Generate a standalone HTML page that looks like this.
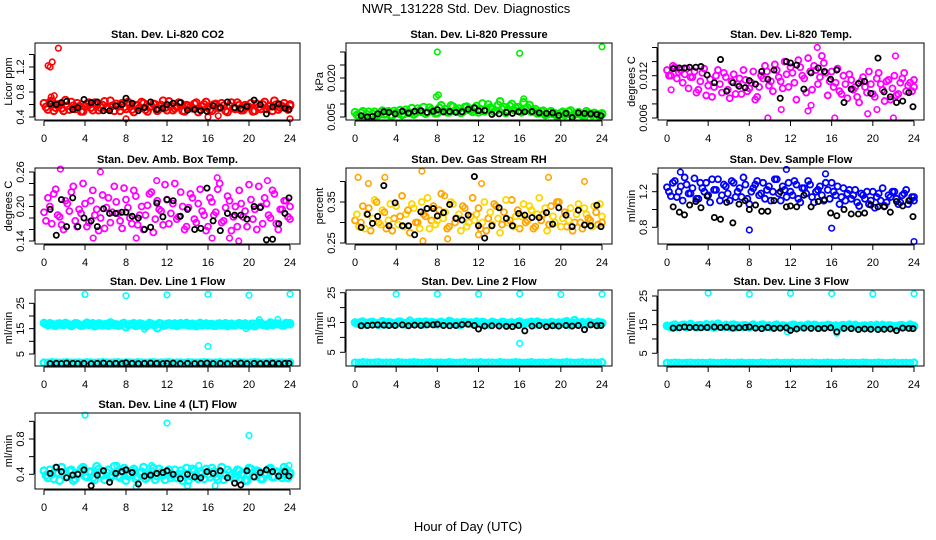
<!DOCTYPE html>
<html><head><meta charset="utf-8">
<style>
html,body{margin:0;padding:0;background:#fff;}
svg{display:block;font-family:"Liberation Sans",Arial,sans-serif;}
</style></head>
<body>
<svg id="chart" width="936" height="540" viewBox="0 0 936 540" xmlns="http://www.w3.org/2000/svg">
<text x="466" y="13" font-size="13" text-anchor="middle">NWR_131228  Std. Dev. Diagnostics</text>
<text x="468" y="531" font-size="13" text-anchor="middle">Hour of Day (UTC)</text>
</svg>
<script>
// ---- shared black (reference) sample hours ----
const blkX = [0.6,1.2,1.7,2.2,2.8,3.3,3.9,4.6,5.2,5.8,6.4,7.0,7.6,8.0,8.6,9.2,9.8,10.4,11.0,11.6,12.0,12.6,13.3,14.0,14.7,15.3,15.9,16.5,17.2,17.9,18.6,19.2,19.8,20.5,21.1,21.7,22.3,22.9,23.5,23.9];
const xTicks = [0,4,8,12,16,20,24];

// ---- panel 1: CO2 ----
const co2Vals = [0.62,0.52,0.66,0.55,0.60,0.50,0.58,0.64,0.53,0.57,0.49,0.61,0.55,0.63,0.51,0.59,0.54,0.66,0.50,0.57,0.62,0.53,0.60,0.48,0.58,0.64,0.52,0.56,0.61,0.50,0.59,0.55,0.65,0.51,0.57,0.62,0.49,0.58,0.54,0.63,0.52,0.60,0.56,0.50,0.61,0.55,0.58,0.48,0.63,0.53,0.59,0.51,0.57,0.62,0.50,0.56,0.60,0.53,0.58,0.66,0.52,0.57,0.55,0.60];
const co2Vals2 = [0.56,0.64,0.50,0.60,0.54,0.67,0.52,0.58,0.62,0.49,0.57,0.63,0.51,0.59,0.55,0.65,0.53,0.58,0.61,0.50,0.56,0.64,0.52,0.59,0.55,0.62,0.49,0.57,0.60,0.53,0.66,0.51,0.58,0.54,0.63,0.50,0.59,0.56,0.61,0.48,0.57,0.64,0.52,0.60,0.55,0.62,0.50,0.58,0.54,0.63,0.51,0.59,0.56,0.49,0.61,0.53,0.64,0.57,0.50,0.60,0.55,0.62,0.52,0.58];
const co2OutX = [0.4,0.6,0.8,1.4,8,16,24,17,0.7,1.0];
const co2OutY = [1.22,1.20,1.28,1.50,0.37,0.40,0.37,0.42,0.72,0.74];
const co2Blk = [0.61,0.60,0.63,0.65,0.52,0.55,0.68,0.63,0.64,0.50,0.50,0.58,0.60,0.70,0.62,0.50,0.55,0.64,0.52,0.54,0.60,0.62,0.63,0.51,0.52,0.50,0.49,0.58,0.55,0.64,0.55,0.53,0.57,0.67,0.60,0.45,0.56,0.61,0.54,0.52];

// ---- panel 2: Pressure ----
const presVals = [0.0068,0.0055,0.0072,0.0060,0.0050,0.0070,0.0058,0.0074,0.0062,0.0056,0.0073,0.0064,0.0058,0.0078,0.0066,0.0060,0.0082,0.0070,0.0063,0.0086,0.0072,0.0065,0.0095,0.0080,0.0068,0.0090,0.0075,0.0066,0.0088,0.0078,0.0070,0.0092,0.0080,0.0072,0.0098,0.0082,0.0074,0.0110,0.0088,0.0076,0.0100,0.0084,0.0072,0.0106,0.0086,0.0070,0.0080,0.0066,0.0074,0.0060,0.0072,0.0064,0.0058,0.0070,0.0062,0.0075,0.0060,0.0068,0.0056,0.0072,0.0062,0.0066,0.0058,0.0064];
const presVals2 = [0.0058,0.0066,0.0052,0.0070,0.0062,0.0054,0.0068,0.0060,0.0072,0.0056,0.0066,0.0076,0.0062,0.0070,0.0084,0.0066,0.0074,0.0088,0.0068,0.0078,0.0064,0.0085,0.0072,0.0068,0.0094,0.0074,0.0082,0.0070,0.0090,0.0076,0.0084,0.0068,0.0102,0.0078,0.0086,0.0070,0.0096,0.0080,0.0066,0.0092,0.0078,0.0088,0.0068,0.0082,0.0096,0.0074,0.0064,0.0072,0.0058,0.0068,0.0062,0.0054,0.0066,0.0058,0.0070,0.0055,0.0064,0.0060,0.0052,0.0066,0.0058,0.0062,0.0054,0.0060];
const presOutX = [8.0,16,24,8.1,7.9,16.4,19.7];
const presOutY = [0.0300,0.0295,0.0320,0.0135,0.0128,0.0120,0.0048];
const presBlk = [0.0055,0.0050,0.0052,0.0062,0.0070,0.0068,0.0062,0.0072,0.0065,0.0072,0.0074,0.0068,0.0072,0.0078,0.0070,0.0071,0.0068,0.0070,0.0080,0.0085,0.0074,0.0075,0.0060,0.0062,0.0068,0.0064,0.0070,0.0070,0.0071,0.0066,0.0064,0.0066,0.0056,0.0064,0.0048,0.0066,0.0064,0.0062,0.0060,0.0055];

// ---- panel 3: Li-820 Temp ----
const tempVals = [0.0128,0.0120,0.0132,0.0125,0.0110,0.0130,0.0118,0.0126,0.0100,0.0124,0.0092,0.0115,0.0104,0.0128,0.0096,0.0118,0.0088,0.0122,0.0108,0.0094,0.0114,0.0102,0.0126,0.0090,0.0120,0.0134,0.0106,0.0098,0.0128,0.0112,0.0140,0.0104,0.0124,0.0086,0.0132,0.0116,0.0145,0.0100,0.0128,0.0118,0.0138,0.0092,0.0126,0.0110,0.0098,0.0120,0.0088,0.0114,0.0104,0.0082,0.0118,0.0096,0.0108,0.0090,0.0124,0.0100,0.0112,0.0086,0.0120,0.0094,0.0116,0.0098,0.0110,0.0104];
const tempVals2 = [0.0120,0.0134,0.0116,0.0128,0.0122,0.0102,0.0118,0.0096,0.0112,0.0130,0.0106,0.0090,0.0120,0.0108,0.0124,0.0100,0.0112,0.0094,0.0116,0.0128,0.0098,0.0110,0.0086,0.0104,0.0116,0.0126,0.0112,0.0136,0.0118,0.0102,0.0122,0.0132,0.0110,0.0142,0.0120,0.0096,0.0126,0.0134,0.0108,0.0148,0.0124,0.0112,0.0104,0.0130,0.0094,0.0108,0.0122,0.0100,0.0090,0.0112,0.0104,0.0126,0.0094,0.0116,0.0108,0.0084,0.0114,0.0102,0.0092,0.0110,0.0124,0.0106,0.0098,0.0114];
const tempOutX = [9.8,16.3,22,11.1,13.7,14.0,19.5,20.4,14.6,22.2,0.4];
const tempOutY = [0.0060,0.0060,0.0060,0.0072,0.0070,0.0078,0.0066,0.0072,0.0160,0.0148,0.0100];
const tempBlk = [0.0130,0.0131,0.0131,0.0132,0.0132,0.0133,0.0121,0.0110,0.0143,0.0098,0.0110,0.0105,0.0103,0.0113,0.0108,0.0126,0.0115,0.0128,0.0088,0.0140,0.0138,0.0135,0.0101,0.0124,0.0131,0.0126,0.0115,0.0128,0.0082,0.0101,0.0109,0.0112,0.0095,0.0145,0.0097,0.0090,0.0082,0.0084,0.0096,0.0076];

// ---- panel 4: Amb Box Temp ----
const ambVals = [0.190,0.215,0.170,0.230,0.182,0.160,0.205,0.225,0.175,0.195,0.240,0.165,0.210,0.185,0.158,0.220,0.198,0.172,0.235,0.188,0.162,0.212,0.180,0.228,0.168,0.200,0.185,0.222,0.155,0.210,0.192,0.238,0.170,0.205,0.178,0.225,0.160,0.198,0.215,0.172,0.230,0.185,0.165,0.208,0.190,0.240,0.175,0.218,0.158,0.200,0.228,0.182,0.165,0.212,0.195,0.235,0.170,0.205,0.180,0.222,0.160,0.195,0.210,0.178];
const ambVals2 = [0.175,0.200,0.222,0.185,0.168,0.210,0.192,0.235,0.165,0.188,0.205,0.172,0.228,0.195,0.180,0.162,0.215,0.190,0.208,0.175,0.232,0.198,0.170,0.218,0.185,0.160,0.202,0.225,0.178,0.195,0.168,0.212,0.188,0.240,0.182,0.200,0.165,0.222,0.178,0.205,0.192,0.158,0.215,0.185,0.230,0.172,0.198,0.210,0.182,0.165,0.205,0.192,0.238,0.178,0.160,0.200,0.215,0.185,0.228,0.170,0.195,0.210,0.182,0.200];
const ambOutX = [1.6,5.5,16.9,19,18.1,16.4,4.8,9,11,21.8];
const ambOutY = [0.265,0.260,0.250,0.140,0.145,0.145,0.145,0.145,0.245,0.245];
const ambBlk = [0.195,0.150,0.212,0.165,0.215,0.165,0.180,0.175,0.165,0.196,0.188,0.188,0.190,0.190,0.183,0.180,0.160,0.164,0.206,0.182,0.212,0.210,0.183,0.195,0.160,0.162,0.232,0.175,0.158,0.188,0.185,0.185,0.178,0.200,0.198,0.142,0.143,0.170,0.188,0.215];

// ---- panel 5: Gas Stream RH ----
const rhVals = [0.305,0.290,0.340,0.320,0.280,0.355,0.300,0.330,0.285,0.345,0.310,0.295,0.365,0.320,0.275,0.335,0.300,0.350,0.315,0.285,0.340,0.305,0.370,0.325,0.290,0.345,0.310,0.280,0.335,0.300,0.360,0.320,0.285,0.350,0.310,0.295,0.340,0.275,0.325,0.300,0.355,0.315,0.285,0.345,0.305,0.330,0.290,0.360,0.320,0.280,0.340,0.300,0.350,0.310,0.290,0.335,0.300,0.345,0.285,0.320,0.305,0.340,0.295,0.315];
const rhVals2 = [0.320,0.300,0.285,0.335,0.310,0.350,0.295,0.325,0.305,0.280,0.340,0.315,0.290,0.330,0.345,0.300,0.285,0.320,0.360,0.305,0.295,0.330,0.310,0.285,0.350,0.300,0.320,0.340,0.290,0.315,0.305,0.335,0.300,0.280,0.325,0.345,0.310,0.295,0.355,0.305,0.290,0.330,0.315,0.300,0.340,0.285,0.320,0.305,0.335,0.295,0.315,0.350,0.290,0.325,0.305,0.280,0.320,0.300,0.335,0.310,0.290,0.325,0.345,0.300];
const rhOutX = [0.3,1.3,2.9,6.5,8.7,18.8,22.3,12.3,6.6,9,12];
const rhOutY = [0.410,0.395,0.410,0.425,0.365,0.410,0.400,0.395,0.255,0.260,0.270];
const rhBlk = [0.288,0.320,0.298,0.315,0.390,0.292,0.348,0.292,0.292,0.270,0.326,0.334,0.334,0.316,0.324,0.344,0.310,0.306,0.318,0.412,0.292,0.262,0.292,0.336,0.310,0.292,0.322,0.318,0.312,0.312,0.324,0.296,0.336,0.318,0.290,0.330,0.294,0.292,0.342,0.290];

// ---- panel 6: Sample Flow ----
const sfVals = [1.25,1.15,1.32,1.20,1.10,1.28,1.18,1.35,1.12,1.24,1.30,1.08,1.22,1.34,1.16,1.26,1.10,1.30,1.20,1.14,1.28,1.06,1.24,1.32,1.18,1.12,1.26,1.20,1.34,1.10,1.22,1.30,1.16,1.28,1.08,1.24,1.32,1.14,1.20,1.26,1.10,1.22,1.30,1.16,1.06,1.24,1.18,1.12,1.22,1.04,1.16,1.20,1.10,1.02,1.18,1.24,1.08,1.14,1.20,1.06,1.16,1.22,1.10,1.14];
const sfVals2 = [1.20,1.30,1.14,1.26,1.36,1.18,1.24,1.12,1.30,1.20,1.16,1.34,1.22,1.10,1.28,1.18,1.32,1.14,1.24,1.36,1.12,1.20,1.28,1.16,1.30,1.22,1.10,1.34,1.18,1.26,1.14,1.20,1.32,1.12,1.24,1.18,1.28,1.08,1.22,1.16,1.30,1.12,1.20,1.26,1.14,1.10,1.22,1.16,1.08,1.18,1.12,1.06,1.20,1.14,1.10,1.04,1.16,1.20,1.12,1.08,1.18,1.06,1.14,1.10];
const sfOutX = [11.6,8,16,24,1.3,15.4];
const sfOutY = [1.45,0.77,0.79,0.64,1.42,1.40];
const sfBlk = [1.03,0.97,0.94,1.05,1.09,1.02,1.15,0.91,0.89,1.08,0.85,1.06,1.10,1.00,1.05,0.98,0.98,1.10,1.20,1.03,1.04,1.03,1.16,1.03,1.09,1.11,0.96,0.93,1.00,0.95,0.95,0.96,1.05,1.03,1.03,0.97,1.09,1.04,1.10,0.92];

// ---- panel 7: Line 1 Flow ----
const l1Up = [17.2,16.4,16.8,16.2,17.0,16.5,16.9,16.1,17.1,16.6,16.3,17.3,16.7,16.0,17.0,16.4,16.8,17.4,16.5,16.2,16.9,15.6,16.7,17.1,16.3,16.8,16.0,17.2,16.6,15.2,16.9,16.4,17.0,16.5,16.1,17.1,16.7,16.3,16.9,16.0,17.2,16.6,16.4,16.8,16.2,17.0,16.5,16.1,16.9,16.4,17.1,16.6,16.3,16.8,16.0,17.3,16.6,16.2,17.4,16.7,16.9,16.3,17.2,16.8];
const l1Up2 = [16.8,17.1,16.3,16.9,16.6,17.2,16.4,16.7,17.0,16.2,16.8,16.5,17.1,16.3,16.9,16.6,16.2,17.0,16.7,16.4,17.2,16.5,16.8,16.1,17.0,16.6,16.3,16.9,16.5,17.1,16.2,16.8,16.6,17.0,16.4,16.7,17.2,16.3,16.6,16.9,16.4,17.0,16.7,16.2,16.9,16.5,17.1,16.6,16.3,16.8,16.5,17.0,16.2,16.9,16.6,17.1,16.4,16.8,16.5,17.0,16.7,16.3,16.9,17.1];
const l1Low = [1.6,1.5,1.7,1.6,1.5,1.6,1.7,1.5,1.6,1.6,1.5,1.7,1.6,1.5,1.6,1.7,1.6,1.5,1.6,1.7,1.5,1.6,1.6,1.5,1.7,1.6,1.5,1.6,1.7,1.5,1.6,1.6,1.7,1.5,1.6,1.6,1.5,1.7,1.6,1.5,1.6,1.7,1.6,1.5,1.6,1.7,1.5,1.6,1.6,1.5,1.7,1.6,1.5,1.6,1.7,1.6,1.5,1.6,1.7,1.5,1.6,1.6,1.5,1.7];
const l1OutX = [4,8,12,16,20,24,16,9.8,19.7,21,22.8];
const l1OutY = [28.5,28.0,28.3,28.5,28.2,28.6,8.0,14.8,15.0,18.5,18.6];
const l1Blk = [1.2,1.3,1.2,1.4,1.3,1.2,1.3,1.2,1.3,1.4,1.2,1.3,1.2,1.5,1.3,1.2,1.3,1.4,1.3,1.2,1.3,1.4,1.2,1.3,1.2,1.3,1.4,1.2,1.3,1.2,1.3,1.4,1.2,1.3,1.2,1.3,1.4,1.2,1.3,1.3];

// ---- panel 8: Line 2 Flow ----
const l2Up = [15.0,14.6,15.3,14.4,15.1,14.8,14.3,15.4,14.7,15.0,14.5,15.2,14.9,14.4,15.6,14.8,15.1,14.5,15.3,14.7,15.0,14.4,15.2,14.8,15.5,14.6,15.0,14.3,15.1,14.9,14.5,15.3,14.7,15.0,14.4,15.2,14.8,14.6,15.1,14.3,15.0,14.7,15.3,14.5,14.9,15.2,14.4,15.0,14.8,14.6,15.1,14.3,15.0,14.7,15.4,14.5,15.8,14.8,15.1,14.4,15.0,14.7,15.2,14.9];
const l2Up2 = [14.7,15.1,14.5,14.9,15.2,14.6,15.0,14.4,15.1,14.8,14.5,15.3,14.7,15.0,14.6,14.9,15.2,14.4,14.8,15.1,14.6,15.0,14.5,14.9,15.3,14.7,14.4,15.1,14.8,15.0,14.6,14.9,15.2,14.5,14.8,15.0,14.6,15.2,14.4,14.9,14.7,15.1,14.5,14.8,15.0,14.6,15.3,14.7,14.9,14.5,15.0,14.8,14.6,15.2,14.4,14.9,15.0,14.7,14.5,15.1,14.8,14.6,15.0,14.8];
const l2Low = [1.5,1.4,1.6,1.5,1.4,1.5,1.6,1.4,1.5,1.5,1.4,1.6,1.5,1.4,1.5,1.6,1.5,1.4,1.5,1.6,1.4,1.5,1.5,1.4,1.6,1.5,1.4,1.5,1.6,1.4,1.5,1.5,1.6,1.4,1.5,1.5,1.4,1.6,1.5,1.4,1.5,1.6,1.5,1.4,1.5,1.6,1.4,1.5,1.5,1.4,1.6,1.5,1.4,1.5,1.6,1.5,1.4,1.5,1.6,1.4,1.5,1.5,1.4,1.6];
const l2OutX = [4,8,12,16,20,24,16];
const l2OutY = [24.5,24.5,24.5,24.6,24.4,24.5,8.0];
const l2Blk = [13.9,14.0,14.1,14.2,14.1,14.0,14.0,14.2,13.9,14.1,14.0,14.2,14.2,14.4,14.0,13.9,14.0,14.3,14.4,14.0,12.8,13.8,13.9,13.8,13.7,13.6,14.0,12.2,13.8,14.0,13.6,13.9,13.8,14.0,13.8,14.0,12.6,14.2,13.9,14.0];

// ---- panel 9: Line 3 Flow ----
const l3Up = [14.6,14.2,15.0,14.4,14.9,14.1,15.2,14.5,14.8,14.3,15.1,14.6,14.0,15.3,14.4,14.9,14.2,15.0,14.7,14.3,14.8,14.1,15.0,14.5,14.9,14.2,14.7,14.4,15.0,14.3,14.6,13.8,14.9,14.4,14.7,14.2,15.0,14.5,14.8,14.1,14.6,14.9,14.3,14.7,14.0,14.8,14.5,14.2,14.9,14.4,14.6,14.1,14.8,14.5,14.3,14.9,14.2,14.7,14.4,14.6,14.8,14.3,15.0,14.5];
const l3Up2 = [14.4,14.8,14.2,14.6,14.9,14.3,14.7,14.1,14.8,14.5,14.2,15.0,14.4,14.7,14.3,14.6,14.9,14.1,14.5,14.8,14.3,14.7,14.2,14.6,15.0,14.4,14.1,14.8,14.5,14.7,14.3,14.6,14.9,14.2,14.5,14.7,14.3,14.9,14.1,14.6,14.4,14.8,14.2,14.5,14.7,14.3,15.0,14.4,14.6,14.2,14.7,14.5,14.3,14.9,14.1,14.6,14.7,14.4,14.2,14.8,14.5,14.3,14.7,14.5];
const l3Low = [1.6,1.5,1.7,1.6,1.5,1.6,1.7,1.5,1.6,1.6,1.5,1.7,1.6,1.5,1.6,1.7,1.6,1.5,1.6,1.7,1.5,1.6,1.6,1.5,1.7,1.6,1.5,1.6,1.7,1.5,1.6,1.6,1.7,1.5,1.6,1.6,1.5,1.7,1.6,1.5,1.6,1.7,1.6,1.5,1.6,1.7,1.5,1.6,1.6,1.5,1.7,1.6,1.5,1.6,1.7,1.6,1.5,1.6,1.7,1.5,1.6,1.6,1.5,1.7];
const l3OutX = [4,8,12,16,20,24,16.5,11.7];
const l3OutY = [26.0,25.6,25.9,25.8,25.7,25.8,12.0,12.5];
const l3Blk = [13.8,13.9,14.2,14.0,14.0,13.9,14.0,14.2,14.0,14.1,13.8,13.9,14.0,14.2,13.8,13.6,14.0,13.7,13.8,13.9,13.0,13.5,13.8,13.7,13.6,13.7,13.9,12.5,13.7,13.6,13.3,13.5,13.4,13.3,13.4,13.5,12.9,13.8,13.7,13.6];

// ---- panel 10: Line 4 (LT) Flow ----
const l4Vals = [0.44,0.36,0.40,0.47,0.33,0.42,0.38,0.45,0.35,0.41,0.48,0.37,0.43,0.34,0.46,0.39,0.42,0.36,0.49,0.38,0.44,0.33,0.41,0.46,0.37,0.43,0.35,0.40,0.47,0.38,0.42,0.34,0.45,0.39,0.36,0.44,0.41,0.33,0.46,0.38,0.43,0.35,0.40,0.47,0.37,0.42,0.34,0.45,0.39,0.36,0.44,0.41,0.33,0.46,0.38,0.43,0.35,0.40,0.47,0.37,0.42,0.36,0.45,0.40];
const l4Vals2 = [0.39,0.45,0.35,0.42,0.48,0.37,0.44,0.33,0.41,0.46,0.38,0.43,0.36,0.49,0.40,0.34,0.45,0.39,0.42,0.36,0.47,0.38,0.44,0.35,0.41,0.48,0.37,0.43,0.34,0.46,0.39,0.42,0.36,0.45,0.40,0.33,0.47,0.38,0.44,0.35,0.41,0.46,0.37,0.43,0.34,0.48,0.39,0.42,0.36,0.45,0.40,0.33,0.47,0.38,0.44,0.35,0.41,0.46,0.37,0.43,0.39,0.48,0.36,0.42];
const l4OutX = [4,12,20,10.5,7.1,15.1,23.9,9,14,16.7];
const l4OutY = [1.07,0.98,0.84,0.50,0.50,0.50,0.50,0.26,0.27,0.27];
const l4Blk = [0.41,0.48,0.43,0.36,0.39,0.40,0.45,0.27,0.39,0.44,0.31,0.41,0.43,0.45,0.42,0.29,0.38,0.39,0.41,0.42,0.44,0.40,0.35,0.40,0.37,0.36,0.43,0.41,0.44,0.36,0.30,0.28,0.44,0.37,0.42,0.45,0.43,0.38,0.43,0.38];

const NS = "http://www.w3.org/2000/svg";
const svg = document.getElementById('chart');
function mk(tag, attrs, parent){ const e=document.createElementNS(NS,tag); for(const k in attrs) e.setAttribute(k,attrs[k]); (parent||svg).appendChild(e); return e; }

const panels = [
 {key:'co2', title:'Stan. Dev. Li-820 CO2', ylab:'Licor ppm', box:[35,43,300,120], a:[0.4,117], b:[1.2,67], ticks:[0.4,0.6,0.8,1.0,1.2,1.4], labels:['0.4','0.8','1.2'], color:'#ff0000', series:[co2Vals,co2Vals2], ox:co2OutX, oy:co2OutY, blk:co2Blk, r:3.4, sw:2},
 {key:'pres', title:'Stan. Dev. Li-820 Pressure', ylab:'kPa', box:[346,43,612,120], a:[0.005,117], b:[0.020,78], ticks:[0.005,0.010,0.015,0.020,0.025,0.030], labels:['0.005','0.020'], color:'#00ee00', series:[presVals,presVals2], ox:presOutX, oy:presOutY, blk:presBlk, r:3.4, sw:2},
 {key:'temp', title:'Stan. Dev. Li-820 Temp.', ylab:'degrees C', box:[658,43,924,120], a:[0.006,118], b:[0.012,75.7], ticks:[0.006,0.008,0.010,0.012,0.014,0.016], labels:['0.006','0.012'], color:'#ff00ff', series:[tempVals,tempVals2], ox:tempOutX, oy:tempOutY, blk:tempBlk, r:3, sw:1.8},
 {key:'amb', title:'Stan. Dev. Amb. Box Temp.', ylab:'degrees C', box:[35,168,300,244], a:[0.14,241], b:[0.26,172], ticks:[0.14,0.16,0.18,0.20,0.22,0.24,0.26], labels:['0.14','0.20','0.26'], color:'#ff00ff', series:[ambVals,ambVals2], ox:ambOutX, oy:ambOutY, blk:ambBlk, r:3, sw:1.8},
 {key:'rh', title:'Stan. Dev. Gas Stream RH', ylab:'percent', box:[346,168,612,244], a:[0.25,243], b:[0.35,202], ticks:[0.25,0.30,0.35,0.40], labels:['0.25','0.35'], color:'#ffa500', series:[rhVals,rhVals2], ox:rhOutX, oy:rhOutY, blk:rhBlk, r:3, sw:1.8},
 {key:'sf', title:'Stan. Dev. Sample Flow', ylab:'ml/min', box:[658,168,924,244], a:[0.8,227.3], b:[1.2,191.7], ticks:[0.8,1.0,1.2,1.4], labels:['0.8','1.2'], color:'#0000ff', series:[sfVals,sfVals2], ox:sfOutX, oy:sfOutY, blk:sfBlk, r:3, sw:1.8},
 {key:'l1', title:'Stan. Dev. Line 1 Flow', ylab:'ml/min', box:[35,290,300,366], a:[5,354], b:[25,303.3], ticks:[5,10,15,20,25], labels:['5','15','25'], color:'#00ffff', series:[l1Up,l1Up2,l1Low], ox:l1OutX, oy:l1OutY, blk:l1Blk, r:3.3, sw:2.2},
 {key:'l2', title:'Stan. Dev. Line 2 Flow', ylab:'ml/min', box:[346,290,612,366], a:[5,352.3], b:[25,292.7], ticks:[5,10,15,20,25], labels:['5','15','25'], color:'#00ffff', series:[l2Up,l2Up2,l2Low], ox:l2OutX, oy:l2OutY, blk:l2Blk, r:3.3, sw:2.2},
 {key:'l3', title:'Stan. Dev. Line 3 Flow', ylab:'ml/min', box:[658,290,924,366], a:[5,353.3], b:[25,296], ticks:[5,10,15,20,25], labels:['5','15','25'], color:'#00ffff', series:[l3Up,l3Up2,l3Low], ox:l3OutX, oy:l3OutY, blk:l3Blk, r:3.3, sw:2.2},
 {key:'l4', title:'Stan. Dev. Line 4 (LT) Flow', ylab:'ml/min', box:[35,413,300,489], a:[0.4,474.3], b:[0.8,439], ticks:[0.4,0.6,0.8,1.0], labels:['0.4','0.8'], color:'#00ffff', series:[l4Vals,l4Vals2], ox:l4OutX, oy:l4OutY, blk:l4Blk, r:3.4, sw:2.2}
];

panels.forEach(p => {
  const [L,T,R,B] = p.box;
  const g = mk('g',{});
  
  
  const xs = v => L + 9 + v*(R-L-19)/24;
  const ys = v => p.a[1] + (v - p.a[0])*(p.b[1]-p.a[1])/(p.b[0]-p.a[0]);
  const t = mk('text',{x:(L+R)/2, y:T-5, 'font-size':11, 'font-weight':'bold', 'text-anchor':'middle'}, g);
  t.textContent = p.title;
  
  
  const yl = mk('text',{x:0, y:0, 'font-size':11, 'text-anchor':'middle', transform:`translate(${L-23},${(T+B)/2}) rotate(-90)`}, g);
  yl.textContent = p.ylab;
  
  
  const sg = mk('g',{fill:'none', stroke:p.color, 'stroke-width':p.sw}, g);
  
  
  p.series.forEach((arr, k) => {
    const off = (k % 2) * 0.5;
    arr.forEach((v,i) => {
      const hx = Math.min(24, (i + off) * 24 / (arr.length - 1));
      const c = mk('circle',{cx:xs(hx), cy:ys(v), r:p.r}, sg);
      if (p.key==='rh' && (i+k)%2===1) c.setAttribute('stroke','#ffd700');
      
      
    });
  });
  p.ox.forEach((x,i) => {
    const c = mk('circle',{cx:xs(x), cy:ys(p.oy[i]), r:2.8}, sg);
    c.setAttribute('stroke-width', 1.6);
    
    
  });
  const bg = mk('g',{fill:'none', stroke:'#000', 'stroke-width':1.8}, g);
  
  
  p.blk.forEach((v,i) => {
    const c = mk('circle',{cx:xs(blkX[i]), cy:ys(v), r:2.6}, bg);
    
    
  });
  const bx = mk('rect',{x:L, y:T, width:R-L, height:B-T, fill:'none', stroke:'#000', 'stroke-width':1}, g);
  
  
  const xa = mk('g',{}, g);
  
  
  mk('line',{x1:xs(0), x2:xs(24), y1:B+1, y2:B+1, stroke:'#000'}, xa);
  xTicks.forEach(v => {
    mk('line',{x1:xs(v), x2:xs(v), y1:B+1, y2:B+6, stroke:'#000'}, xa);
    const tl = mk('text',{x:xs(v), y:B+22, 'font-size':11, 'text-anchor':'middle'}, xa);
    tl.textContent = v;
    
    
  });
  const ya = mk('g',{}, g);
  
  
  mk('line',{x1:L-1, x2:L-1, y1:ys(p.ticks[0]), y2:ys(p.ticks[p.ticks.length-1]), stroke:'#000'}, ya);
  p.ticks.forEach(v => {
    mk('line',{x1:L-6, x2:L-1, y1:ys(v), y2:ys(v), stroke:'#000'}, ya);
  });
  p.labels.forEach(s => {
    const v = parseFloat(s);
    const tl = mk('text',{x:0, y:0, 'font-size':11, 'text-anchor':'middle', transform:`translate(${L-11},${ys(v)}) rotate(-90)`}, ya);
    tl.textContent = s;
    
    
  });
});
</script>
</body></html>
